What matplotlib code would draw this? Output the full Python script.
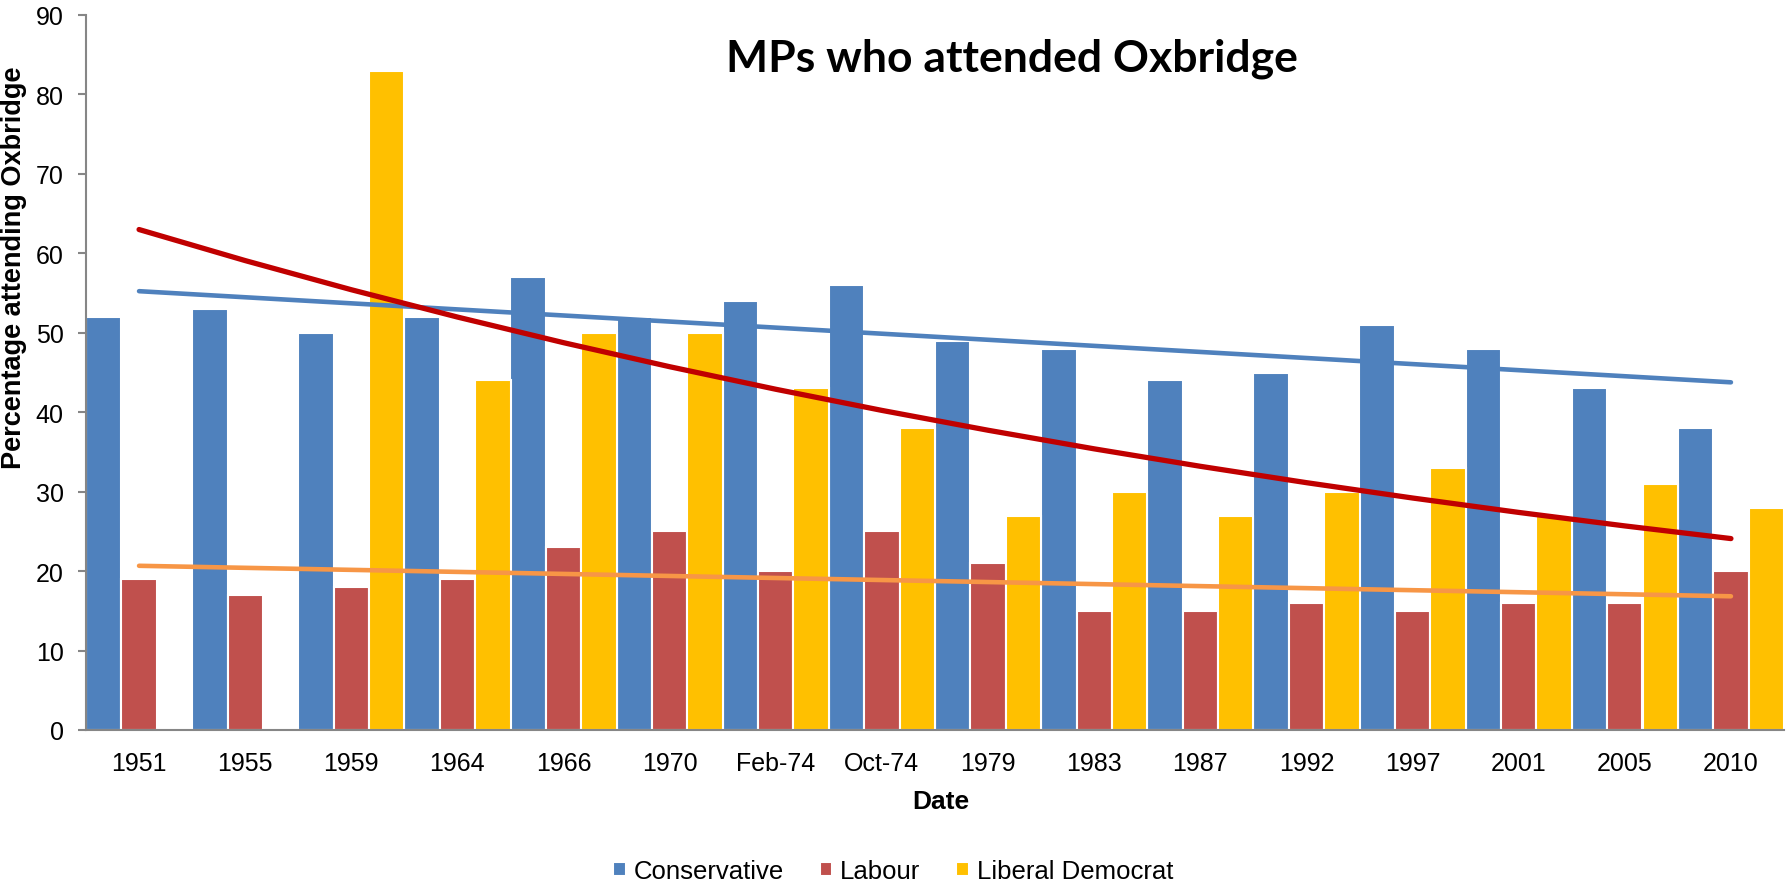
import numpy as np
import matplotlib
matplotlib.use('Agg')
import matplotlib.pyplot as plt

elections = ['1951', '1955', '1959', '1964', '1966', '1970', 'Feb-74', 'Oct-74',
             '1979', '1983', '1987', '1992', '1997', '2001', '2005', '2010']
conservative = [52, 53, 50, 52, 57, 52, 54, 56, 49, 48, 44, 45, 51, 48, 43, 38]
labour = [19, 17, 18, 19, 23, 25, 20, 25, 21, 15, 15, 16, 15, 16, 16, 20]
lib_dem = [np.nan, np.nan, 83, 44, 50, 50, 43, 38, 27, 30, 27, 30, 33, 27, 31, 28]

plt.rcParams['font.family'] = ['Liberation Sans', 'DejaVu Sans']

fig = plt.figure(figsize=(17.87, 8.87), dpi=100)
ax = fig.add_axes([86 / 1787, 1 - 731 / 887, (1784 - 86) / 1787, (731 - 16) / 887])

x = np.arange(len(elections))
w = 1 / 3
ax.bar(x - w, conservative, w, color='#4F81BD', edgecolor='white', linewidth=1.5, label='Conservative')
ax.bar(x, labour, w, color='#C0504D', edgecolor='white', linewidth=1.5, label='Labour')
ax.bar(x + w, lib_dem, w, color='#FFC000', edgecolor='white', linewidth=1.5, label='Liberal Democrat')

# trendlines like Excel: linear for Conservative and Labour, exponential for Lib Dem
n = x + 1
con_fit = np.polyfit(n, conservative, 1)
lab_fit = np.polyfit(n, labour, 1)
ld = np.array(lib_dem)
ok = ~np.isnan(ld)
ld_fit = np.polyfit(n[ok], np.log(ld[ok]), 1)

ax.plot(x, np.polyval(con_fit, n), color='#4F81BD', lw=3.3, solid_capstyle='round', zorder=3)
ax.plot(x, np.polyval(lab_fit, n), color='#F79646', lw=3.3, solid_capstyle='round', zorder=3)
ax.plot(x, np.exp(np.polyval(ld_fit, n)), color='#C00000', lw=3.8, solid_capstyle='round', zorder=4)

ax.set_xlim(-0.5, len(elections) - 0.5)
ax.set_ylim(0, 90)
ax.set_yticks(range(0, 91, 10))
ax.set_xticks(x)
ax.set_xticklabels(elections)

for s in ['top', 'right']:
    ax.spines[s].set_visible(False)
for s in ['left', 'bottom']:
    ax.spines[s].set_color('#868686')
    ax.spines[s].set_linewidth(1.5)
ax.tick_params(axis='y', length=6, width=1.5, color='#868686', labelsize=18, pad=10)
ax.tick_params(axis='x', length=0, labelsize=18, pad=15)

fig.text(14 / 1787, 1 - 268 / 887, 'Percentage attending Oxbridge', rotation=90,
         ha='center', va='center', fontsize=19.5, fontweight='bold')
fig.text(941 / 1787, 1 - 802 / 887, 'Date', ha='center', va='center', fontsize=19, fontweight='bold')
fig.text(1012 / 1787, 1 - 59 / 887, 'MPs who attended Oxbridge', ha='center', va='center',
         fontsize=32, fontweight='bold', family=['Lato', 'DejaVu Sans'])

fig.legend(loc='center', bbox_to_anchor=(893 / 1787, 1 - 872 / 887), ncol=3, frameon=False,
           fontsize=18.5, handlelength=0.5, handleheight=0.5, handletextpad=0.3, columnspacing=1.4)

fig.savefig('out.png', dpi=100)
